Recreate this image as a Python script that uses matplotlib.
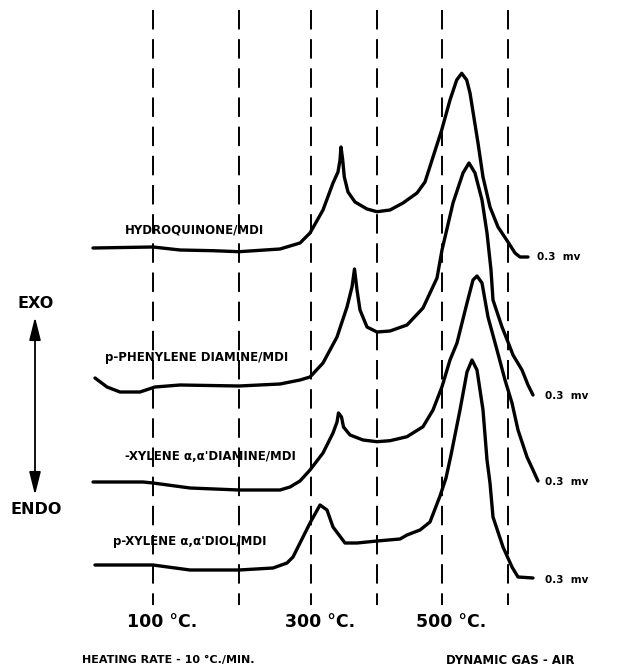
import matplotlib
matplotlib.use("Agg")
import matplotlib.pyplot as plt

# DTA thermograms, hand (x = chart position, y = pen position, downwards)
temps = [100, 200, 300, 400, 500, 600]
temp_pos = [153, 239, 311, 377, 442, 508]
temp_labels = {100: "100 °C.", 300: "300 °C.", 500: "500 °C."}

hq_x = [93, 153, 180, 213, 239, 280, 300, 310, 323, 333, 338, 340, 341, 342.7, 344.3, 348,
        355, 367, 377, 390, 403, 417, 425, 433, 441.7, 450, 456.7, 461.7, 466.7, 470, 478,
        483, 490, 498, 508, 515, 520, 528]
hq_y = [248, 247, 250, 250.7, 251.7, 249, 243, 233, 210, 183, 172, 160, 147, 160, 177, 192,
        202, 209, 211.7, 210, 203, 193, 182, 157, 130, 100, 80, 73.3, 80, 93, 143,
        177, 207, 227, 242, 253, 257, 257]

ppd_x = [95, 107, 120, 140, 155, 180, 239, 280, 300, 310, 323, 337, 347, 352, 354.5, 357,
         360, 367, 377, 390, 407, 423, 437, 442, 453, 463, 469, 475, 482, 487, 491, 493,
         502, 508, 513, 522, 528, 533]
ppd_y = [378, 387, 392, 392, 387, 385, 386, 384, 380, 377, 363, 337, 307, 287, 269, 290,
         310, 327, 332, 331, 325, 308, 278, 250, 203, 173, 163, 173, 200, 233, 270, 300,
         327, 342, 355, 370, 385, 395]

xda_x = [93, 143, 153, 190, 239, 280, 290, 300, 310, 323, 333, 337, 338.5, 341.5, 343.5,
         350, 363, 377, 390, 407, 423, 433, 442, 450, 457, 467, 473, 477, 482, 488, 497,
         505, 512, 518, 527, 533, 538]
xda_y = [482, 482, 483, 488, 490, 490, 487, 481, 470, 453, 433, 422, 413, 417, 427,
         435, 440, 441.7, 440.7, 436.7, 426.7, 410, 386.7, 360, 343, 303, 280, 276, 283, 317, 350,
         380, 403, 430, 457, 470, 481]

xdo_x = [95, 153, 190, 239, 273, 287, 293, 300, 310, 320, 327, 333, 345, 357, 377, 400,
         407, 420, 430, 440, 446, 451, 460, 467, 472, 477, 483, 487, 490, 493, 503, 512,
         518, 533]
xdo_y = [565, 565, 570, 570, 568, 563, 557, 543, 523, 505, 510, 527, 543, 543, 541, 539,
         535, 530, 522, 496, 478, 455, 410, 372, 360, 370, 410, 460, 483, 517, 547, 567,
         577, 578]

curves = [
    (hq_x, hq_y, "HYDROQUINONE/MDI", (195, 230), (537, 257)),
    (ppd_x, ppd_y, "p-PHENYLENE DIAMINE/MDI", (197, 358), (545, 396)),
    (xda_x, xda_y, "-XYLENE \u03b1,\u03b1'DIAMINE/MDI", (210, 457), (545, 482)),
    (xdo_x, xdo_y, "p-XYLENE \u03b1,\u03b1'DIOL/MDI", (190, 542), (545, 580)),
]

fig = plt.figure(figsize=(6.19, 6.69), dpi=100)
ax = fig.add_axes([0, 0, 1, 1])
ax.set_xlim(0, 619)
ax.set_ylim(669, 0)
ax.axis("off")

# dashed temperature lines
ax.vlines(temp_pos, 10, 605, colors="black", linewidth=1.4, linestyles=(0, (10, 5)), zorder=1)
for t, p in zip(temps, temp_pos):
    if t in temp_labels:
        ax.text(p + 9, 622, temp_labels[t], fontsize=12.5, fontweight="bold",
                ha="center", va="center")

for x, y, name, lab_pos, mv_pos in curves:
    ax.plot(x, y, color="black", linewidth=2.4, solid_joinstyle="round",
            solid_capstyle="round", zorder=3)
    ax.text(lab_pos[0], lab_pos[1], name, fontsize=8.5, fontweight="bold",
            ha="center", va="center")
    ax.text(mv_pos[0], mv_pos[1], "0.3  mv", fontsize=7.5, fontweight="bold",
            ha="left", va="center")

# EXO / ENDO arrow
ax.annotate("", xy=(35, 317), xytext=(35, 495),
            arrowprops=dict(arrowstyle="<|-|>,head_length=1.4,head_width=0.35",
                            color="black", linewidth=1.3, shrinkA=0, shrinkB=0))
ax.text(36, 303, "EXO", fontsize=11.5, fontweight="bold", ha="center", va="center")
ax.text(36, 509, "ENDO", fontsize=11.5, fontweight="bold", ha="center", va="center")

ax.text(168, 660, "HEATING RATE - 10 °C./MIN.", fontsize=8, fontweight="bold",
        ha="center", va="center")
ax.text(510, 660, "DYNAMIC GAS - AIR", fontsize=8.5, fontweight="bold",
        ha="center", va="center")

fig.savefig("out.png", dpi=100, facecolor="white")
